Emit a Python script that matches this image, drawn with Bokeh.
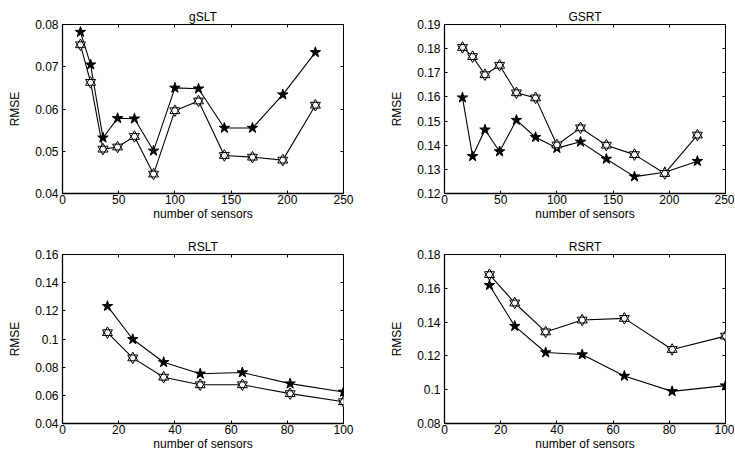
from bokeh.plotting import figure
from bokeh.layouts import gridplot
from bokeh.models import (LinearAxis, FixedTicker, CustomJSTickFormatter, Range1d,
                          CustomLabelingPolicy)
from bokeh.embed import file_html
from bokeh.resources import INLINE

# ---- data ----
sensors_g = [16, 25, 36, 49, 64, 81, 100, 121, 144, 169, 196, 225]
sensors_r = [16, 25, 36, 49, 64, 81, 100]

gslt_star = [0.0782, 0.0705, 0.0532, 0.0578, 0.0577, 0.0501, 0.0650, 0.0648, 0.0555, 0.0555, 0.0634, 0.0734]
gslt_hex = [0.0752, 0.0663, 0.0505, 0.0510, 0.0535, 0.0446, 0.0596, 0.0619, 0.0490, 0.0486, 0.0479, 0.0609]

gsrt_star = [0.1597, 0.1354, 0.1464, 0.1374, 0.1504, 0.1433, 0.1388, 0.1414, 0.1343, 0.1270, 0.1288, 0.1334]
gsrt_hex = [0.1805, 0.1767, 0.1692, 0.1731, 0.1617, 0.1596, 0.1401, 0.1472, 0.1400, 0.1361, 0.1283, 0.1442]

rslt_star = [0.1233, 0.0998, 0.0835, 0.0753, 0.0762, 0.0683, 0.0624]
rslt_hex = [0.1045, 0.0866, 0.0729, 0.0675, 0.0675, 0.0612, 0.0555]

rsrt_star = [0.1618, 0.1376, 0.1220, 0.1208, 0.1081, 0.0990, 0.1024]
rsrt_hex = [0.1681, 0.1513, 0.1342, 0.1412, 0.1422, 0.1238, 0.1317]

xticks_g = [0, 50, 100, 150, 200, 250]
xticks_r = [0, 20, 40, 60, 80, 100]
yticks_gslt = [0.04, 0.05, 0.06, 0.07, 0.08]
yticks_gsrt = [0.12, 0.13, 0.14, 0.15, 0.16, 0.17, 0.18, 0.19]
yticks_rslt = [0.04, 0.06, 0.08, 0.10, 0.12, 0.14, 0.16]
yticks_rsrt = [0.08, 0.10, 0.12, 0.14, 0.16, 0.18]

titles = ["gSLT", "GSRT", "RSLT", "RSRT"]
x_label = "number of sensors"
y_label = "RMSE"

FONT = "Liberation Sans"
FS = "12px"

fmt_js = "return String(parseFloat(tick.toFixed(4)));"
hide_js = "for (const i of [...indices]) { indices.unset(i) }"


def make_panel(title, xs, star, hexs, xticks, yticks, width, height,
               bl, br, bt, bb):
    p = figure(width=width, height=height, output_backend="svg",
               toolbar_location=None,
               x_range=Range1d(xticks[0], xticks[-1]),
               y_range=Range1d(yticks[0], yticks[-1]),
               min_border_left=bl, min_border_right=br,
               min_border_top=bt, min_border_bottom=bb)
    p.background_fill_color = "white"
    p.border_fill_color = "white"
    p.outline_line_color = "black"
    p.outline_line_width = 1
    p.grid.visible = False

    p.title.text = title
    p.title.align = "center"
    p.title.text_font = FONT
    p.title.text_font_size = FS
    p.title.text_font_style = "normal"
    p.title.text_color = "black"
    p.title.standoff = 2

    for ax in (p.xaxis[0], p.yaxis[0]):
        ax.major_tick_in = 3
        ax.major_tick_out = 0
        ax.minor_tick_line_color = None
        ax.axis_line_color = "black"
        ax.axis_line_width = 1.3
        ax.major_tick_line_color = "black"
        ax.major_label_text_font = FONT
        ax.major_label_text_font_size = FS
        ax.major_label_text_color = "black"
        ax.axis_label_text_font = FONT
        ax.axis_label_text_font_size = FS
        ax.axis_label_text_font_style = "normal"
        ax.axis_label_text_color = "black"
        ax.formatter = CustomJSTickFormatter(code=fmt_js)

    p.xaxis[0].ticker = FixedTicker(ticks=xticks)
    p.yaxis[0].ticker = FixedTicker(ticks=yticks)
    p.xaxis[0].axis_label = x_label
    p.yaxis[0].axis_label = y_label
    p.xaxis[0].major_label_standoff = 1
    p.xaxis[0].axis_label_standoff = 0
    p.yaxis[0].major_label_standoff = 4
    p.yaxis[0].axis_label_standoff = 10

    # mirror ticks on top and right (labels suppressed)
    for loc, tk in (("right", yticks), ("above", xticks)):
        ax = LinearAxis(ticker=FixedTicker(ticks=tk),
                        major_label_text_font_size="0px",
                        major_label_policy=CustomLabelingPolicy(code=hide_js),
                        major_label_standoff=0,
                        major_tick_in=3, major_tick_out=0,
                        minor_tick_line_color=None,
                        axis_line_color=None,
                        major_tick_line_color="black")
        p.add_layout(ax, loc)

    # lines
    p.line(xs, star, line_color="black", line_width=1.1)
    p.line(xs, hexs, line_color="black", line_width=1.1)

    # filled pentagrams
    p.scatter(xs, star, marker="star", size=11, fill_color="black",
              line_color="black", line_width=1)

    # open hexagrams (two overlapped triangles)
    p.scatter(xs, hexs, marker="triangle", size=10, fill_color="white", line_color=None)
    p.scatter(xs, hexs, marker="inverted_triangle", size=10, fill_color="white", line_color=None)
    p.scatter(xs, hexs, marker="triangle", size=10, fill_color=None,
              line_color="black", line_width=1)
    p.scatter(xs, hexs, marker="inverted_triangle", size=10, fill_color=None,
              line_color="black", line_width=1)
    return p


p1 = make_panel(titles[0], sensors_g, gslt_star, gslt_hex, xticks_g, yticks_gslt,
                372, 236, 62, 29, 24, 43)
p2 = make_panel(titles[1], sensors_g, gsrt_star, gsrt_hex, xticks_g, yticks_gsrt,
                362, 236, 72, 9, 24, 43)
p3 = make_panel(titles[2], sensors_r, rslt_star, rslt_hex, xticks_r, yticks_rslt,
                372, 217, 62, 29, 18, 30)
p4 = make_panel(titles[3], sensors_r, rsrt_star, rsrt_hex, xticks_r, yticks_rsrt,
                362, 217, 72, 9, 18, 30)

grid = gridplot([[p1, p2], [p3, p4]], toolbar_location=None)

open("out.html", "w").write(file_html(grid, INLINE))
